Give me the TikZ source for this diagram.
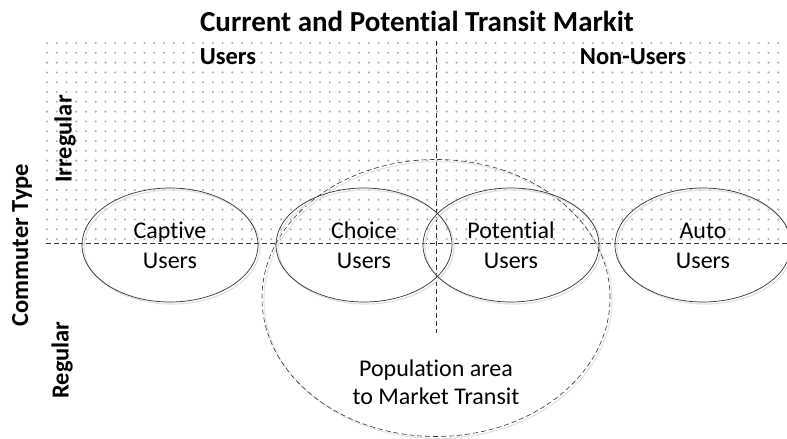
\documentclass[tikz,border=0pt]{standalone}
\usepackage{fontspec}
\setmainfont{Carlito}[Ligatures=NoCommon]
\usetikzlibrary{shapes.geometric}
\tikzset{
  grp/.style={draw=black!80, line width=0.7pt, ellipse, inner sep=0pt, minimum width=176pt, minimum height=114pt},
  grptext/.style={align=center, font=\fontsize{24}{30}\selectfont},
  shad/.style={draw=black!12, line width=1.2pt, ellipse, minimum width=176pt, minimum height=114pt},
  dashline/.style={draw=black!80, line width=0.6pt, dash pattern=on 5pt off 3pt},
  hdr/.style={font=\bfseries\fontsize{24.5}{29}\selectfont}
}
\begin{document}
\begin{tikzpicture}[x=1pt,y=-1pt]
\useasboundingbox (0,0) rectangle (787,439);
% dotted background
\foreach \i in {0,...,75}{
  \foreach \j in {0,...,20}{
    \fill[black!32] (47+\i*9.75, 43+\j*9.8) circle (1.15pt);
  }
}
% title
\node[font=\bfseries\fontsize{29}{34}\selectfont] (title) at (417,21) {Current and Potential Transit Markit};
\node[hdr] (users) at (228,57) {Users};
\node[hdr] (nonusers) at (633,57) {Non-Users};
\node[hdr, rotate=90] (ctype) at (22,245) {Commuter Type};
\node[hdr, rotate=90] (irreg) at (65,139) {Irregular};
\node[hdr, rotate=90] (reg) at (62,360) {Regular};
% axes
\coordinate (hl) at (46,243);
\coordinate (hr) at (787,243);
\coordinate (vt) at (436,41);
\coordinate (vb) at (436,333);
\draw[dashline] (hl) -- (hr);
\draw[dashline] (vt) -- (vb);
% population area
\node[draw=black!10, line width=1.2pt, ellipse, minimum width=348pt, minimum height=277pt] (popsh) at (438,300) {};
\node[dashline, ellipse, inner sep=0pt, minimum width=348pt, minimum height=277pt] (pop) at (436,298) {};
\node[align=center, font=\fontsize{24}{28}\selectfont] (poptext) at (436,385) {Population area\strut\\to Market Transit\strut};
% groups
\node[shad] at (172,247) {};
\node[shad] at (366,247) {};
\node[shad] at (513,247) {};
\node[shad] at (705,247) {};
\node[grp] (captive) at (170,245) {};
\node[grp] (choice) at (364,245) {};
\node[grp] (potential) at (511,245) {};
\node[grp] (auto) at (703,245) {};
\node[grptext] (captivet) at (170,247) {Captive\strut\\Users\strut};
\node[grptext] (choicet) at (364,247) {Choice\strut\\Users\strut};
\node[grptext] (potentialt) at (511,247) {Potential\strut\\Users\strut};
\node[grptext] (autot) at (703,247) {Auto\strut\\Users\strut};
\end{tikzpicture}
\end{document}
